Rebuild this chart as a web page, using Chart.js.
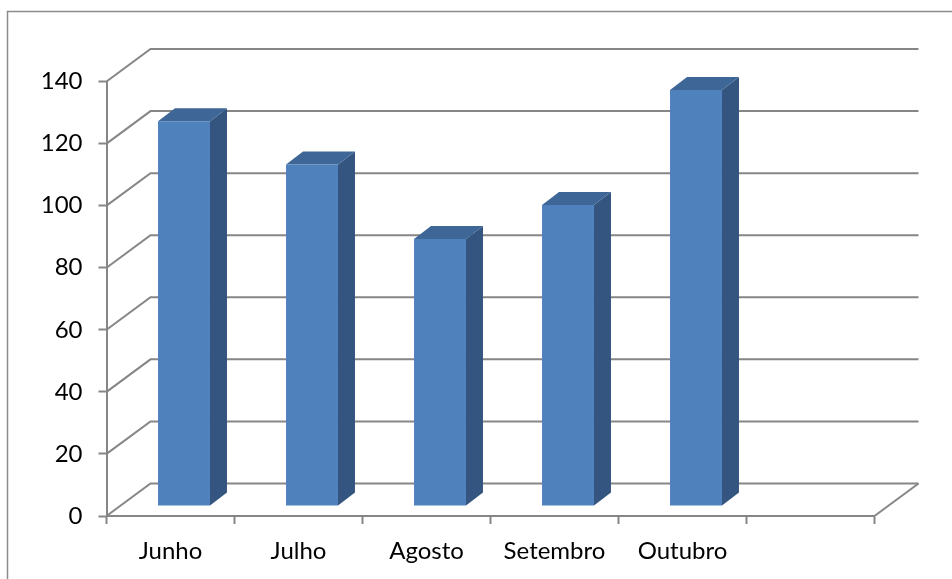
<!DOCTYPE html>
<html>
<head>
<meta charset="utf-8">
<title>Chart</title>
<script src="https://cdn.jsdelivr.net/npm/chart.js@4"></script>
<style>
  html, body { margin: 0; padding: 0; background: #fff; overflow: hidden; }
  canvas { display: block; }
</style>
</head>
<body>
<canvas id="monthsChart" width="952" height="579"></canvas>
<script>
// Data
const months = ['Junho', 'Julho', 'Agosto', 'Setembro', 'Outubro', ''];
const values = [124, 110, 86, 97, 134];

const axisGray = '#868686';
const wallDepth = { x: 44, y: -32.5 };
const barDepth = { x: 17, y: -13 };
const barShift = { x: 13.5, y: -10 };

// 3D look: frame, side walls with grid lines, bar tops and sides
const fake3d = {
  id: 'fake3d',
  beforeDatasetsDraw(chart) {
    const { ctx, chartArea, scales } = chart;
    ctx.save();
    ctx.lineCap = 'butt';
    ctx.strokeStyle = '#8c8c8c';
    ctx.lineWidth = 1.5;
    ctx.beginPath();
    ctx.moveTo(7.5, 579);
    ctx.lineTo(7.5, 11.5);
    ctx.lineTo(952, 11.5);
    ctx.stroke();

    ctx.strokeStyle = axisGray;
    ctx.lineWidth = 2;
    scales.y.ticks.forEach(t => {
      const y = scales.y.getPixelForValue(t.value);
      ctx.beginPath();
      ctx.moveTo(chartArea.left, y);
      ctx.lineTo(chartArea.left + wallDepth.x, y + wallDepth.y);
      ctx.lineTo(chartArea.right + wallDepth.x, y + wallDepth.y);
      ctx.stroke();
    });
    ctx.beginPath();
    ctx.moveTo(chartArea.right, chartArea.bottom);
    ctx.lineTo(chartArea.right + wallDepth.x, chartArea.bottom + wallDepth.y);
    ctx.stroke();
    ctx.restore();

    // bars are drawn by the library inside this shifted context
    ctx.save();
    ctx.translate(barShift.x, barShift.y);
    chart.getDatasetMeta(0).data.forEach(bar => {
      const { x, y, width, base } = bar.getProps(['x', 'y', 'width', 'base'], true);
      const r = x + width / 2;
      const l = x - width / 2;
      ctx.fillStyle = '#335580';
      ctx.beginPath();
      ctx.moveTo(r, y);
      ctx.lineTo(r + barDepth.x, y + barDepth.y);
      ctx.lineTo(r + barDepth.x, base + barDepth.y);
      ctx.lineTo(r, base);
      ctx.closePath();
      ctx.fill();
      ctx.fillStyle = '#3e6696';
      ctx.beginPath();
      ctx.moveTo(l, y);
      ctx.lineTo(l + barDepth.x, y + barDepth.y);
      ctx.lineTo(r + barDepth.x, y + barDepth.y);
      ctx.lineTo(r, y);
      ctx.closePath();
      ctx.fill();
    });
  },
  afterDatasetsDraw(chart) {
    chart.ctx.restore();
  }
};

const monthsCtx = document.getElementById('monthsChart').getContext('2d');
const monthsChart = new Chart(monthsCtx, {
  type: 'bar',
  plugins: [fake3d],
  data: {
    labels: months,
    datasets: [{
      data: values,
      backgroundColor: '#4f81bd',
      borderWidth: 0,
      barPercentage: 0.406,
      categoryPercentage: 1,
      clip: false
    }]
  },
  options: {
    responsive: false,
    animation: false,
    layout: { padding: { top: 81.5, right: 77.5, left: 0, bottom: 0 } },
    plugins: {
      legend: { display: false },
      title: { display: false },
      tooltip: { enabled: false }
    },
    scales: {
      x: {
        afterFit(scale) { scale.height = 63; },
        border: { color: axisGray, width: 2 },
        grid: { drawOnChartArea: false, color: axisGray, tickLength: 8, tickWidth: 2 },
        ticks: {
          color: '#000',
          padding: 13,
          maxRotation: 0,
          autoSkip: false,
          font: { family: 'Lato', size: 24 }
        }
      },
      y: {
        min: 0,
        max: 140,
        afterFit(scale) { scale.width = 106.5; },
        border: { color: axisGray, width: 2 },
        grid: { drawOnChartArea: false, color: axisGray, tickLength: 8, tickWidth: 2 },
        ticks: {
          stepSize: 20,
          color: '#000',
          padding: 16,
          font: { family: 'Lato', size: 24 }
        }
      }
    }
  }
});
</script>
</body>
</html>
